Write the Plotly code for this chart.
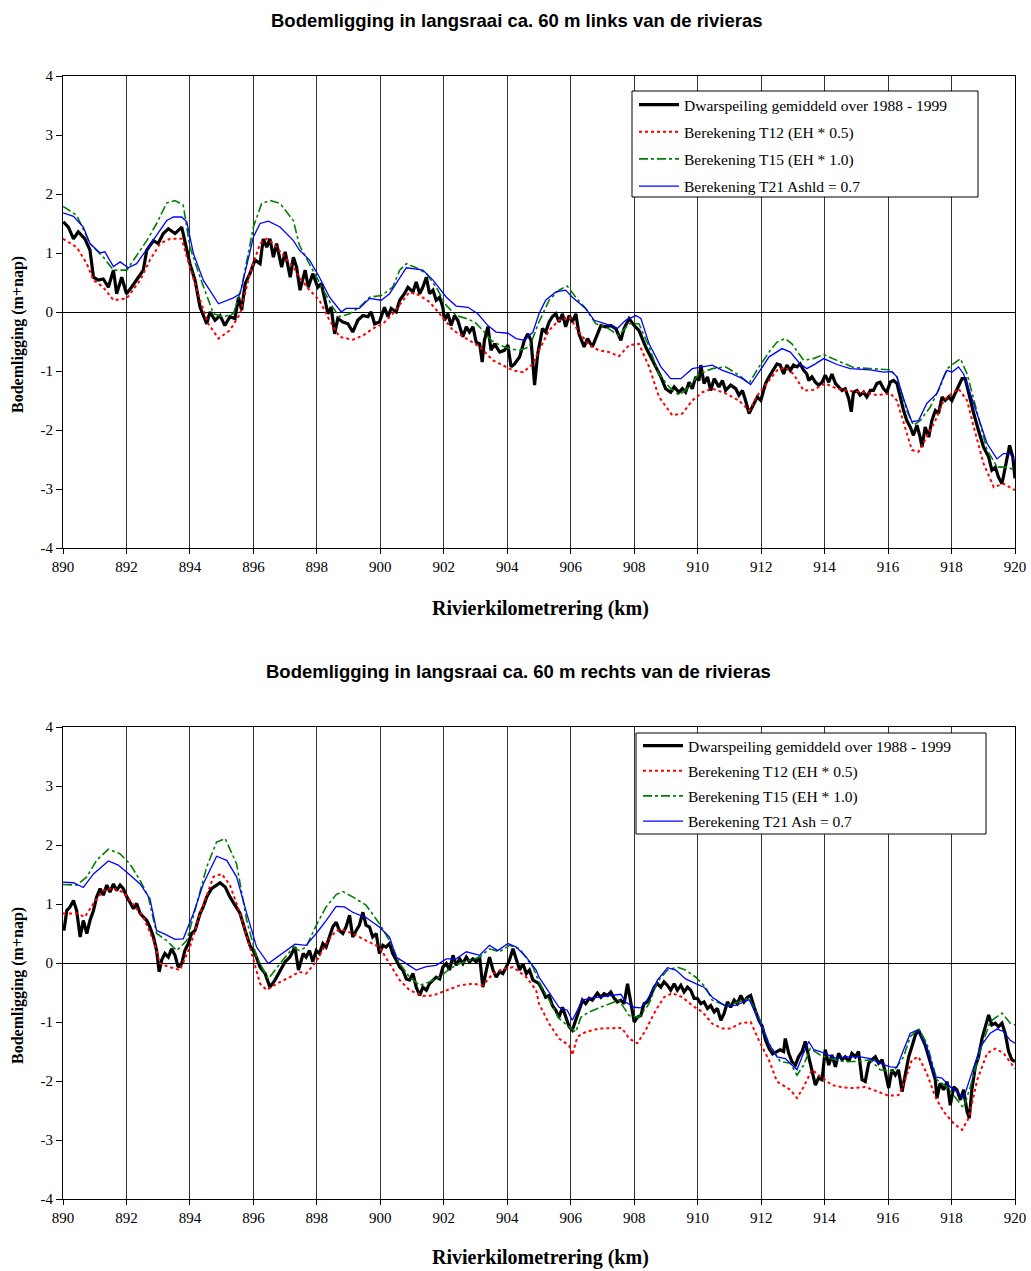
import plotly.graph_objects as go

# ---------------- TOP CHART (links) ----------------
top_meas_km = [890.01,890.17,890.33,890.48,890.69,890.85,890.96,891.11,891.27,891.43,891.59,891.69,891.85,892.0,892.16,892.32,892.53,892.64,892.85,893.0,893.16,893.32,893.53,893.74,893.84,894.0,894.16,894.32,894.53,894.63,894.79,894.95,895.1,895.26,895.42,895.53,895.63,895.74,895.89,896.05,896.21,896.31,896.42,896.52,896.63,896.73,896.89,897.0,897.16,897.26,897.36,897.47,897.63,897.73,
               897.87,898.03,898.14,898.24,898.35,898.45,898.56,898.66,898.82,898.98,899.13,899.29,899.45,899.61,899.71,899.82,899.97,900.13,900.24,900.34,900.5,900.61,900.76,900.87,901.03,901.13,901.24,901.34,901.45,901.55,901.66,901.76,901.87,901.97,902.02,902.13,902.23,902.34,902.44,902.6,902.71,902.81,902.92,903.02,903.13,903.21,903.28,903.39,903.49,903.6,903.76,903.91,904.02,904.12,904.23,904.39,904.54,904.65,904.75,904.86,904.96,
               905.11,905.21,905.32,905.42,905.53,905.63,905.74,905.84,905.95,906.05,906.16,906.26,906.42,906.53,906.68,906.84,906.95,907.1,907.26,907.42,907.58,907.68,907.84,908.0,908.15,908.36,908.57,908.68,908.84,908.99,909.15,909.26,909.41,909.52,909.62,909.73,909.83,909.94,910.04,910.1,910.2,910.31,910.41,910.52,910.67,910.78,910.88,911.04,911.2,911.3,911.41,911.51,911.62,911.72,911.88,911.99,912.14,912.25,
               912.39,912.5,912.6,912.71,912.81,912.92,913.02,913.13,913.23,913.34,913.44,913.5,913.6,913.71,913.81,913.92,914.02,914.13,914.23,914.34,914.44,914.55,914.65,914.76,914.84,914.91,915.02,915.12,915.23,915.33,915.44,915.54,915.65,915.75,915.86,915.96,916.07,916.17,916.28,916.38,916.49,916.59,916.7,916.8,916.91,917.01,917.07,917.17,917.28,917.38,917.49,917.59,917.7,917.8,917.91,918.01,918.12,918.22,918.33,918.43,918.54,918.7,918.85,919.01,919.17,919.27,919.38,919.48,919.59,919.69,919.83,919.93,920.0]
top_meas_val = [1.53,1.44,1.24,1.36,1.24,1.05,0.59,0.54,0.56,0.42,0.71,0.31,0.59,0.31,0.42,0.54,0.71,1.05,1.21,1.16,1.33,1.41,1.33,1.44,1.21,0.82,0.54,0.08,-0.2,0.0,-0.14,-0.06,-0.23,-0.08,-0.11,0.25,0.03,0.48,0.65,0.88,0.82,1.24,1.1,1.24,0.93,1.16,0.76,1.02,0.59,0.93,0.76,0.37,0.71,0.42,
                0.65,0.42,0.48,0.25,-0.03,0.08,-0.37,-0.11,-0.17,-0.2,-0.34,-0.14,-0.06,-0.08,0.0,-0.2,-0.17,0.08,-0.08,0.06,0.0,0.2,0.31,0.42,0.34,0.51,0.31,0.42,0.59,0.31,0.37,0.2,0.25,0.08,-0.14,-0.03,-0.23,-0.06,-0.14,-0.42,-0.25,-0.34,-0.25,-0.51,-0.54,-0.85,-0.48,-0.25,-0.65,-0.54,-0.68,-0.65,-0.56,-0.93,-0.88,-0.76,-0.48,-0.37,-0.48,-1.24,-0.71,
                -0.28,-0.34,-0.17,-0.08,-0.03,-0.17,-0.03,-0.25,-0.06,-0.17,-0.03,-0.37,-0.59,-0.45,-0.59,-0.37,-0.23,-0.25,-0.23,-0.28,-0.48,-0.28,-0.11,-0.23,-0.31,-0.59,-0.82,-0.93,-1.1,-1.3,-1.36,-1.27,-1.36,-1.3,-1.36,-1.19,-1.3,-1.1,-1.16,-0.9,-1.21,-1.1,-1.33,-1.13,-1.27,-1.16,-1.33,-1.24,-1.3,-1.41,-1.33,-1.5,-1.72,-1.61,-1.44,-1.5,-1.21,-1.1,
                -0.99,-0.88,-0.9,-1.05,-0.9,-0.99,-0.9,-0.93,-0.88,-0.99,-1.05,-1.16,-1.1,-1.19,-1.24,-1.19,-1.07,-1.19,-1.05,-1.21,-1.27,-1.33,-1.3,-1.47,-1.69,-1.36,-1.33,-1.41,-1.36,-1.44,-1.33,-1.33,-1.21,-1.19,-1.3,-1.36,-1.19,-1.16,-1.21,-1.44,-1.67,-1.84,-1.95,-2.09,-1.92,-2.12,-2.29,-1.95,-2.12,-1.84,-1.67,-1.72,-1.44,-1.5,-1.44,-1.5,-1.38,-1.27,-1.13,-1.13,-1.38,-1.72,-2.01,-2.29,-2.46,-2.68,-2.63,-2.8,-2.91,-2.63,-2.26,-2.46,-2.82]

top_t12_km = [890.0,890.43,890.75,890.96,891.27,891.59,892.01,892.43,892.74,893.06,893.37,893.74,894.0,894.32,894.58,894.9,895.26,895.58,895.89,896.21,896.42,896.63,897.26,
              897.45,897.77,898.08,898.4,898.71,899.13,899.45,899.76,900.08,900.39,900.71,900.92,901.24,901.55,901.87,902.29,902.71,903.13,903.55,903.86,904.18,904.5,904.81,
              905.0,905.32,905.63,905.95,906.26,906.58,906.89,907.21,907.52,907.84,908.15,908.47,908.78,909.2,909.52,909.83,910.15,910.46,910.88,911.3,911.62,911.93,912.25,
              912.5,912.76,913.02,913.34,913.65,914.02,914.39,914.81,915.23,915.65,916.07,916.28,916.49,916.75,916.96,917.22,917.49,917.75,918.01,918.22,918.49,918.7,919.01,919.33,919.64,920.0]
top_t12_val = [1.24,1.1,0.82,0.54,0.42,0.2,0.23,0.54,0.88,1.16,1.24,1.24,0.76,0.2,-0.2,-0.45,-0.31,-0.03,0.65,1.16,1.24,1.16,0.76,
               0.59,0.37,0.2,-0.14,-0.42,-0.47,-0.4,-0.28,-0.2,-0.03,0.2,0.34,0.28,0.17,-0.03,-0.31,-0.45,-0.59,-0.82,-0.9,-0.99,-1.02,-0.88,
               -0.65,-0.31,-0.14,-0.08,-0.34,-0.56,-0.65,-0.68,-0.75,-0.56,-0.54,-0.93,-1.44,-1.75,-1.72,-1.5,-1.36,-1.3,-1.38,-1.5,-1.67,-1.38,-1.16,
               -0.99,-0.94,-1.05,-1.33,-1.32,-1.21,-1.3,-1.34,-1.36,-1.41,-1.38,-1.5,-1.89,-2.34,-2.37,-2.12,-1.84,-1.5,-1.38,-1.3,-1.5,-1.95,-2.57,-2.97,-2.91,-3.02]

top_t15_km = [890.0,890.43,890.85,891.27,891.59,892.01,892.64,892.95,893.27,893.53,893.79,894.0,894.32,894.74,895.05,895.37,895.63,896.0,896.26,896.52,896.84,897.26,
              897.45,897.87,898.19,898.5,898.71,899.03,899.34,899.66,900.03,900.39,900.61,900.82,901.13,901.45,901.76,902.08,902.39,902.71,902.97,903.23,903.49,903.76,904.07,904.39,904.7,
              905.0,905.32,905.63,905.89,906.16,906.47,906.79,907.1,907.52,907.84,908.15,908.47,908.78,909.1,909.41,909.73,910.04,910.46,910.88,911.3,911.62,911.93,
              912.29,912.5,912.76,912.97,913.34,913.65,913.97,914.39,914.91,915.44,916.07,916.28,916.59,916.8,917.01,917.33,917.64,917.86,918.07,918.28,918.49,918.81,919.12,919.44,919.75,920.0]
top_t15_val = [1.79,1.64,1.16,0.93,0.71,0.71,1.21,1.5,1.85,1.89,1.81,1.1,0.59,-0.03,-0.08,-0.03,0.42,1.44,1.84,1.89,1.84,1.55,
               1.13,0.71,0.37,0.08,-0.08,-0.03,0.08,0.25,0.28,0.42,0.71,0.82,0.75,0.65,0.42,0.11,-0.06,-0.11,-0.17,-0.31,-0.48,-0.56,-0.62,-0.65,-0.59,
               -0.17,0.2,0.37,0.44,0.25,0.06,-0.2,-0.25,-0.4,-0.2,-0.2,-0.59,-1.05,-1.27,-1.41,-1.27,-1.05,-0.96,-0.93,-1.07,-1.21,-0.93,
               -0.65,-0.51,-0.45,-0.54,-0.82,-0.79,-0.72,-0.82,-0.94,-0.96,-0.98,-1.1,-1.67,-1.92,-1.84,-1.61,-1.27,-0.96,-0.88,-0.79,-1.05,-1.72,-2.34,-2.63,-2.63,-2.68]

top_t21_km = [890.0,890.33,890.64,890.85,891.17,891.32,891.59,891.8,892.06,892.32,892.69,893.06,893.27,893.48,893.74,893.9,894.11,894.42,894.9,895.37,895.58,896.0,896.21,896.47,896.84,897.26,
              897.45,897.77,898.08,898.4,898.77,898.92,899.34,899.66,900.03,900.29,900.61,900.82,901.08,901.34,901.66,902.08,902.39,902.76,903.07,903.39,903.65,904.02,904.28,904.54,904.81,
              905.0,905.21,905.53,905.84,906.05,906.47,906.74,907.1,907.47,907.73,908.05,908.21,908.47,908.84,909.15,909.47,909.83,910.15,910.46,910.78,911.09,911.41,911.67,911.93,912.25,
              912.66,912.92,913.23,913.44,913.71,913.97,914.39,914.81,915.44,915.86,916.12,916.28,916.49,916.75,916.96,917.22,917.54,917.75,917.86,918.01,918.22,918.38,918.59,918.85,919.12,919.43,919.64,919.85,920.0]
top_t21_val = [1.68,1.62,1.44,1.16,1.0,1.02,0.77,0.85,0.75,0.82,1.1,1.38,1.55,1.61,1.61,1.53,0.99,0.54,0.14,0.24,0.31,1.27,1.5,1.54,1.44,1.21,
               1.05,0.88,0.59,0.25,0.0,0.06,0.06,0.23,0.2,0.31,0.59,0.75,0.73,0.71,0.54,0.25,0.1,0.08,-0.03,-0.23,-0.34,-0.36,-0.45,-0.48,-0.34,
               -0.03,0.2,0.34,0.37,0.25,0.06,-0.14,-0.2,-0.28,-0.14,-0.06,-0.11,-0.54,-0.93,-1.13,-1.13,-0.96,-0.93,-0.9,-0.99,-1.05,-1.13,-1.23,-1.02,-0.76,
               -0.62,-0.68,-0.88,-0.96,-0.88,-0.79,-0.89,-0.96,-0.98,-1.02,-1.01,-1.1,-1.47,-1.86,-1.84,-1.55,-1.38,-1.1,-0.99,-1.02,-0.93,-1.05,-1.38,-1.78,-2.23,-2.49,-2.4,-2.4,-2.54]

# ---------------- BOTTOM CHART (rechts) ----------------
bot_meas_km = [890.03,890.12,890.22,890.33,890.43,890.54,890.64,890.75,890.85,890.96,891.06,891.17,891.27,891.38,891.48,891.59,891.69,891.8,891.9,892.01,892.11,892.22,892.32,892.43,892.53,892.64,892.74,892.85,892.95,893.03,893.11,893.21,893.32,893.42,893.53,893.63,893.74,893.84,893.95,894.05,894.16,894.32,894.42,894.53,894.68,894.84,894.95,895.11,895.26,895.42,895.58,895.74,895.89,896.05,896.21,896.37,896.52,896.68,896.84,897.0,897.15,897.31,897.42,897.57,
               897.66,897.77,897.87,897.98,898.08,898.19,898.29,898.4,898.5,898.61,898.71,898.82,898.92,899.03,899.13,899.24,899.34,899.45,899.55,899.66,899.76,899.87,899.97,900.08,900.18,900.29,900.39,900.5,900.61,900.71,900.82,900.92,901.03,901.13,901.24,901.34,901.45,901.55,901.66,901.76,901.87,901.97,902.08,902.18,902.29,902.39,902.5,902.6,902.71,902.81,902.92,903.02,903.13,903.23,903.34,903.44,903.55,903.65,903.76,903.86,903.97,904.07,904.18,904.28,904.39,904.49,904.6,904.7,904.81,904.91,
               905.0,905.11,905.21,905.32,905.42,905.53,905.63,905.74,905.84,905.95,906.05,906.16,906.26,906.37,906.47,906.58,906.68,906.84,906.95,907.05,907.16,907.26,907.37,907.47,907.58,907.68,907.79,907.89,908.0,908.1,908.21,908.31,908.42,908.52,908.63,908.73,908.84,908.94,909.05,909.15,909.26,909.36,909.47,909.57,909.68,909.78,909.89,909.99,910.1,910.2,910.31,910.41,910.52,910.62,910.73,910.83,910.94,911.04,911.15,911.25,911.36,911.46,911.57,911.67,911.78,911.93,912.04,912.14,912.25,912.36,912.46,
               912.5,912.6,912.71,912.76,912.87,912.97,913.08,913.18,913.29,913.39,913.5,913.6,913.71,913.81,913.92,914.02,914.13,914.23,914.34,914.44,914.55,914.65,914.76,914.86,914.97,915.07,915.18,915.28,915.39,915.49,915.6,915.7,915.81,915.91,916.02,916.12,916.23,916.33,916.44,916.54,916.65,916.75,916.86,916.96,917.07,917.17,917.28,917.38,917.49,917.54,917.64,917.75,917.86,917.96,918.07,918.17,918.28,918.38,918.49,918.56,918.64,918.75,918.85,918.96,919.06,919.17,919.27,919.38,919.48,919.59,919.69,919.8,919.9,920.0]
bot_meas_val = [0.55,0.89,0.95,1.06,0.89,0.44,0.72,0.5,0.72,0.89,1.12,1.26,1.15,1.32,1.2,1.34,1.23,1.32,1.26,1.12,1.03,0.92,1.01,0.84,0.78,0.72,0.61,0.44,0.21,-0.15,0.05,0.16,0.1,0.24,0.13,-0.07,-0.01,0.21,0.33,0.5,0.55,0.84,0.95,1.12,1.26,1.32,1.36,1.29,1.12,0.98,0.84,0.55,0.3,0.16,-0.07,-0.18,-0.41,-0.29,-0.12,0.02,0.1,0.27,-0.12,0.16,
                0.1,0.21,0.02,0.21,0.16,0.33,0.27,0.44,0.61,0.69,0.55,0.5,0.61,0.81,0.44,0.55,0.64,0.86,0.64,0.61,0.44,0.5,0.16,0.3,0.27,0.33,0.16,0.05,-0.07,-0.12,-0.27,-0.29,-0.18,-0.41,-0.55,-0.41,-0.46,-0.35,-0.29,-0.24,-0.27,-0.07,-0.01,-0.12,0.13,-0.04,0.07,-0.01,0.1,0.02,0.07,0.02,0.1,-0.41,-0.12,0.1,-0.12,-0.24,-0.15,-0.18,-0.07,0.05,0.24,0.05,-0.12,-0.01,-0.18,-0.12,-0.29,-0.32,
                -0.35,-0.46,-0.58,-0.55,-0.72,-0.8,-0.92,-0.75,-0.92,-1.08,-1.14,-0.97,-0.8,-0.63,-0.69,-0.6,-0.63,-0.51,-0.58,-0.52,-0.55,-0.49,-0.6,-0.66,-0.63,-0.69,-0.35,-0.69,-1.0,-0.92,-0.89,-0.69,-0.66,-0.55,-0.41,-0.35,-0.41,-0.32,-0.38,-0.46,-0.35,-0.46,-0.38,-0.49,-0.41,-0.46,-0.6,-0.6,-0.69,-0.66,-0.77,-0.72,-0.83,-0.77,-0.97,-0.86,-0.66,-0.75,-0.63,-0.69,-0.55,-0.66,-0.58,-0.55,-0.75,-0.97,-1.08,-1.31,-1.45,-1.54,-1.51,
                -1.5,-1.47,-1.5,-1.28,-1.53,-1.67,-1.73,-1.59,-1.5,-1.33,-1.59,-1.84,-2.07,-1.95,-1.98,-1.47,-1.73,-1.56,-1.76,-1.53,-1.64,-1.59,-1.67,-1.53,-1.59,-1.5,-1.98,-2.01,-1.7,-1.64,-1.59,-1.7,-1.64,-1.84,-2.12,-1.81,-1.9,-1.81,-2.18,-1.9,-1.59,-1.42,-1.22,-1.14,-1.28,-1.39,-1.59,-1.76,-1.98,-2.29,-2.04,-2.15,-2.01,-2.41,-2.1,-2.15,-2.32,-2.15,-2.52,-2.63,-2.15,-1.76,-1.59,-1.28,-1.08,-0.88,-1.05,-1.02,-1.08,-1.02,-1.19,-1.5,-1.64,-1.67]

bot_t12_km = [890.0,890.43,890.69,890.96,891.27,891.59,891.9,892.22,892.53,892.85,893.06,893.37,893.69,894.0,894.32,894.74,895.0,895.26,895.58,895.89,896.21,896.42,896.73,897.15,
              897.45,897.66,897.98,898.29,898.61,898.82,899.13,899.55,899.97,900.29,900.61,900.92,901.34,901.66,902.08,902.5,902.92,903.23,903.55,903.86,904.18,904.6,904.91,
              905.0,905.32,905.63,905.95,906.05,906.21,906.47,906.89,907.31,907.61,907.84,908.1,908.36,908.68,908.94,909.2,909.52,909.83,910.15,910.46,910.78,911.04,911.36,911.67,911.93,912.25,
              912.5,912.76,912.92,913.13,913.34,913.6,913.92,914.23,914.6,914.91,915.28,915.65,916.02,916.33,916.54,916.75,916.96,917.22,917.49,917.75,918.07,918.33,918.54,918.81,919.12,919.38,919.64,920.0]
bot_t12_val = [0.84,0.84,0.78,1.01,1.23,1.26,1.2,0.98,0.78,0.38,-0.01,-0.07,-0.12,0.27,0.84,1.46,1.51,1.32,0.84,0.27,-0.35,-0.46,-0.35,-0.24,
               -0.15,-0.18,0.02,0.33,0.55,0.56,0.5,0.38,0.27,-0.01,-0.29,-0.46,-0.56,-0.55,-0.46,-0.38,-0.35,-0.38,-0.18,-0.1,-0.07,-0.24,-0.46,
               -0.69,-1.03,-1.28,-1.4,-1.56,-1.25,-1.17,-1.11,-1.11,-1.1,-1.28,-1.36,-1.14,-0.8,-0.58,-0.51,-0.58,-0.72,-0.83,-1.03,-1.11,-1.11,-1.02,-1.0,-1.31,-1.65,
               -2.01,-2.1,-2.15,-2.29,-2.1,-1.81,-1.95,-2.07,-2.11,-2.12,-2.1,-2.18,-2.25,-2.24,-1.98,-1.64,-1.59,-1.87,-2.27,-2.52,-2.72,-2.83,-2.63,-1.98,-1.53,-1.45,-1.53,-1.79]

bot_t15_km = [890.0,890.43,890.75,891.06,891.43,891.8,892.11,892.43,892.69,892.95,893.27,893.58,893.9,894.21,894.53,894.84,895.11,895.47,895.79,896.1,896.47,896.84,897.26,
              897.45,897.66,897.98,898.29,898.61,898.82,899.13,899.55,899.97,900.29,900.61,900.92,901.24,901.55,901.87,902.18,902.5,902.81,903.13,903.44,903.76,904.07,904.39,904.81,
              905.0,905.32,905.63,905.95,906.16,906.32,906.58,906.89,907.21,907.52,907.84,908.15,908.47,908.73,909.05,909.36,909.62,909.94,910.25,910.46,910.88,911.3,911.62,911.93,912.25,
              912.6,912.92,913.13,913.34,913.55,913.86,914.18,914.6,915.02,915.44,915.75,916.17,916.49,916.7,916.96,917.22,917.54,917.86,918.12,918.38,918.59,918.91,919.22,919.59,919.85,920.0]
bot_t15_val = [1.33,1.32,1.46,1.74,1.93,1.85,1.68,1.4,1.12,0.5,0.38,0.21,0.38,1.01,1.63,2.05,2.11,1.68,0.72,0.1,-0.27,-0.01,0.27,
               0.21,0.27,0.64,0.95,1.16,1.21,1.12,0.98,0.67,0.38,-0.01,-0.24,-0.38,-0.32,-0.24,-0.1,-0.01,0.05,0.1,0.24,0.19,0.3,0.24,-0.07,
               -0.32,-0.63,-0.94,-1.08,-1.17,-0.92,-0.83,-0.76,-0.7,-0.63,-0.89,-0.92,-0.69,-0.32,-0.12,-0.07,-0.12,-0.24,-0.41,-0.63,-0.72,-0.66,-0.6,-0.92,-1.37,
               -1.67,-1.7,-1.9,-1.73,-1.45,-1.56,-1.62,-1.67,-1.67,-1.64,-1.81,-1.84,-1.59,-1.25,-1.11,-1.36,-1.98,-2.1,-2.27,-2.46,-2.1,-1.47,-0.99,-0.85,-1.02,-1.05]

bot_t21_km = [890.0,890.33,890.64,890.96,891.43,891.74,892.11,892.43,892.74,892.95,893.21,893.53,893.79,894.11,894.42,894.84,895.16,895.47,895.79,896.1,896.47,896.84,897.31,
              897.66,897.98,898.29,898.61,898.87,899.13,899.55,899.97,900.29,900.5,900.82,901.13,901.45,901.76,902.08,902.39,902.71,903.13,903.44,903.7,904.02,904.28,904.6,904.91,
              905.0,905.32,905.63,905.89,906.05,906.21,906.37,906.68,907.1,907.58,907.73,908.0,908.21,908.47,908.73,909.05,909.31,909.62,909.94,910.2,910.46,910.88,911.2,911.62,911.93,912.25,
              912.5,912.76,912.97,913.13,913.29,913.5,913.66,913.86,914.13,914.39,914.7,915.12,915.44,915.75,916.07,916.28,916.49,916.7,916.91,917.22,917.49,917.7,917.96,918.17,918.38,918.59,918.91,919.22,919.43,919.64,919.85,920.0]
bot_t21_val = [1.37,1.36,1.28,1.51,1.73,1.66,1.49,1.34,1.09,0.55,0.49,0.4,0.41,0.84,1.34,1.81,1.74,1.46,0.84,0.27,-0.01,0.13,0.32,
               0.3,0.5,0.72,0.96,0.95,0.86,0.77,0.61,0.44,0.1,-0.01,-0.12,-0.06,-0.04,0.07,0.07,0.19,0.13,0.3,0.21,0.33,0.27,0.1,-0.12,
               -0.24,-0.49,-0.75,-0.8,-0.97,-0.8,-0.63,-0.59,-0.56,-0.53,-0.66,-0.75,-0.76,-0.58,-0.29,-0.08,-0.12,-0.27,-0.35,-0.41,-0.58,-0.73,-0.72,-0.62,-0.97,-1.37,
               -1.59,-1.62,-1.73,-1.81,-1.59,-1.33,-1.47,-1.5,-1.56,-1.62,-1.59,-1.59,-1.62,-1.7,-1.76,-1.77,-1.47,-1.19,-1.14,-1.42,-1.93,-1.95,-2.1,-2.18,-2.29,-1.93,-1.42,-1.19,-1.12,-1.16,-1.31,-1.36]

names_top = ["Dwarspeiling gemiddeld over 1988 - 1999", "Berekening T12 (EH * 0.5)",
             "Berekening T15 (EH * 1.0)", "Berekening T21 Ashld = 0.7"]
names_bot = ["Dwarspeiling gemiddeld over 1988 - 1999", "Berekening T12 (EH * 0.5)",
             "Berekening T15 (EH * 1.0)", "Berekening T21 Ash = 0.7"]
title_top = "Bodemligging in langsraai ca. 60 m links van de rivieras"
title_bot = "Bodemligging in langsraai ca. 60 m rechts van de rivieras"
x_title = "Rivierkilometrering (km)"
y_title = "Bodemligging (m+nap)"
x_ticks = list(range(890, 921, 2))
y_ticks = [-4, -3, -2, -1, 0, 1, 2, 3, 4]
y_ticktext = ["-4", "-3", "-2", "-1", "0", "1", "2", "3", "4"]

styles = [dict(color="black", width=3.2, dash="solid"),
          dict(color="#FF0000", width=2, dash="dot"),
          dict(color="#008000", width=1.6, dash="dashdot"),
          dict(color="#0000FF", width=1.3, dash="solid")]

fig = go.Figure()
top_sets = [(top_meas_km, top_meas_val), (top_t12_km, top_t12_val), (top_t15_km, top_t15_val), (top_t21_km, top_t21_val)]
bot_sets = [(bot_meas_km, bot_meas_val), (bot_t12_km, bot_t12_val), (bot_t15_km, bot_t15_val), (bot_t21_km, bot_t21_val)]
for i, (xs, ys) in enumerate(top_sets):
    fig.add_trace(go.Scatter(x=xs, y=ys, mode="lines", name=names_top[i], line=styles[i],
                             xaxis="x", yaxis="y", legend="legend", legendgroup="t%d" % i))
for i, (xs, ys) in enumerate(bot_sets):
    fig.add_trace(go.Scatter(x=xs, y=ys, mode="lines", name=names_bot[i], line=styles[i],
                             xaxis="x2", yaxis="y2", legend="legend2", legendgroup="b%d" % i))

serif = "Liberation Serif"
sans = "Liberation Sans"
W, H = 1031, 1271
L, R, T, B = 63, 16, 76, 72
ph = H - T - B
def py(Y):
    return 1 - (Y - T) / ph
def px(X):
    return (X - L) / (W - L - R)

xa = dict(range=[890, 920], tickvals=x_ticks, showgrid=True, gridcolor="#333", gridwidth=1,
          showline=True, linecolor="black", linewidth=1, mirror=True, ticks="outside", ticklen=5,
          tickcolor="black", zeroline=False, automargin=False, ticklabelstandoff=0,
          tickfont=dict(family=serif, size=15, color="black"))
ya = dict(range=[-4, 4], tickvals=y_ticks, ticktext=y_ticktext, showgrid=False, zeroline=True,
          zerolinecolor="black", zerolinewidth=1, showline=True, linecolor="black", linewidth=1,
          mirror=True, ticks="outside", ticklen=6, tickcolor="black", automargin=False,
          tickfont=dict(family=serif, size=15, color="black"))

leg = dict(bgcolor="rgba(0,0,0,0)", borderwidth=0, xanchor="left", yanchor="top",
           font=dict(family=serif, size=15.5, color="black"), itemwidth=40)

fig.update_layout(
    width=W, height=H, margin=dict(l=L, r=R, t=T, b=B),
    paper_bgcolor="white", plot_bgcolor="white", showlegend=True,
    xaxis=dict(xa, domain=[0, 1], anchor="y"),
    yaxis=dict(ya, domain=[py(548), 1], anchor="x"),
    xaxis2=dict(xa, domain=[0, 1], anchor="y2"),
    yaxis2=dict(ya, domain=[0, py(727)], anchor="x2"),
    legend=dict(leg, x=px(634), y=py(88), tracegroupgap=4),
    legend2=dict(leg, x=px(638), y=py(729), tracegroupgap=2),
)

# legend frames (white boxes with black border behind the legends)
shapes = []
for (x0, y0, x1, y1) in [(632, 91, 978, 197), (636, 733, 986, 834)]:
    shapes.append(dict(type="rect", xref="paper", yref="paper", x0=px(x0), x1=px(x1),
                       y0=py(y1), y1=py(y0), fillcolor="white", line=dict(color="black", width=1),
                       layer="above"))
fig.update_layout(shapes=shapes)

ann = []
ann.append(dict(text="<b>%s</b>" % title_top, x=px(516), y=py(20), xref="paper", yref="paper",
                xanchor="center", yanchor="middle", showarrow=False,
                font=dict(family=sans, size=18.5, color="black")))
ann.append(dict(text="<b>%s</b>" % title_bot, x=px(518), y=py(671), xref="paper", yref="paper",
                xanchor="center", yanchor="middle", showarrow=False,
                font=dict(family=sans, size=18.5, color="black")))
for yy in (608, 1257):
    ann.append(dict(text="<b>%s</b>" % x_title, x=px(540), y=py(yy), xref="paper", yref="paper",
                    xanchor="center", yanchor="middle", showarrow=False,
                    font=dict(family=serif, size=20, color="black")))
for yy in (335, 986):
    ann.append(dict(text="<b>%s</b>" % y_title, x=px(18), y=py(yy), xref="paper", yref="paper",
                    xanchor="center", yanchor="middle", showarrow=False, textangle=-90,
                    font=dict(family=serif, size=16, color="black")))
fig.update_layout(annotations=ann)

fig.write_html("out.html")
